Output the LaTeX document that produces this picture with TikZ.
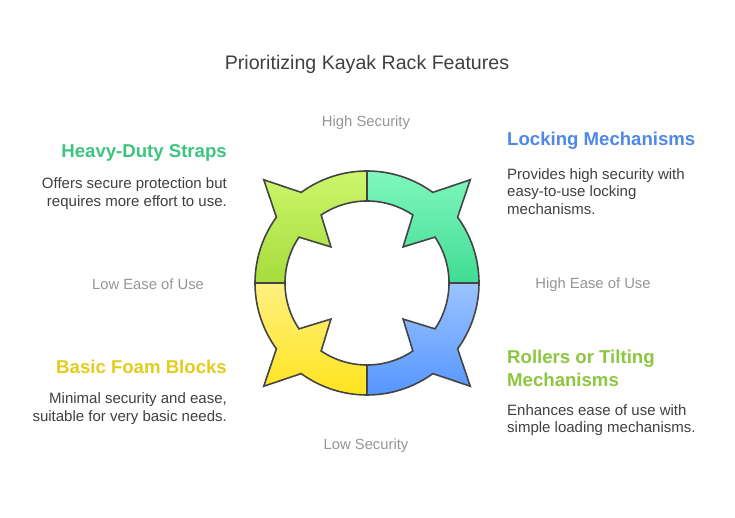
\documentclass[tikz,border=0pt]{standalone}
\usepackage{fontspec}
\setmainfont{Liberation Sans}
\begin{document}
\begin{tikzpicture}[x=1pt,y=1pt,
  ringseg/.style={draw=ringline, line width=1.6pt, line join=miter},
  heading/.style={font=\fontsize{18.6}{23}\selectfont\bfseries, inner sep=0pt},
  body/.style={font=\fontsize{15}{17.5}\selectfont, text=bodytext, inner sep=0pt},
  axislabel/.style={font=\fontsize{14.8}{17}\selectfont, text=axisgray, inner sep=0pt},
]
\definecolor{ringline}{HTML}{444444}
\definecolor{bodytext}{HTML}{404040}
\definecolor{axisgray}{HTML}{969696}
\definecolor{trtop}{HTML}{80F7BE}\definecolor{trbot}{HTML}{40DC94}
\definecolor{tltop}{HTML}{CCF66C}\definecolor{tlbot}{HTML}{A6DC3C}
\definecolor{bltop}{HTML}{FFF080}\definecolor{blbot}{HTML}{FFE41E}
\definecolor{brtop}{HTML}{9CC3FF}\definecolor{brbot}{HTML}{5596FF}
\definecolor{hgreen}{HTML}{3DC47E}
\definecolor{hblue}{HTML}{4F88E6}
\definecolor{hyellow}{HTML}{E3CC1E}
\definecolor{hlime}{HTML}{8DC73F}
\useasboundingbox (0,0) rectangle (735,518);
\fill[white] (0,0) rectangle (735,518);

\begin{scope}[shift={(367,235)}]
\foreach \b/\tc/\bc in {0/trtop/trbot, 90/tltop/tlbot, 180/bltop/blbot, 270/brtop/brbot}{
  \shade[ringseg, top color=\tc, bottom color=\bc]
    (\b:82) -- (\b:112)
    arc[start angle=\b, end angle=\b+36, radius=112]
    -- (\b+45:146) -- (\b+54:112)
    arc[start angle=\b+54, end angle=\b+90, radius=112]
    -- (\b+90:82)
    arc[start angle=\b+90, end angle=\b+56, radius=82]
    -- (\b+45:51) -- (\b+34:82)
    arc[start angle=\b+34, end angle=\b, radius=82]
    -- cycle;
}
\end{scope}

\node[font=\fontsize{19.6}{23}\selectfont, text=bodytext, inner sep=0pt] (title) at (367,454) {Prioritizing Kayak Rack Features};

\node[axislabel] (hs) at (366,395.5) {High Security};
\node[axislabel] (ls) at (366,72.5) {Low Security};
\node[axislabel] (le) at (148,233.5) {Low Ease of Use};
\node[axislabel] (he) at (593,233.5) {High Ease of Use};

\node[heading, text=hgreen, anchor=east] (h1) at (227,365.5) {Heavy-Duty Straps};
\node[body, anchor=east, align=right] (b1) at (227,324.5) {Offers secure protection but\\requires more effort to use.};

\node[heading, text=hblue, anchor=west] (h2) at (507,377.5) {Locking Mechanisms};
\node[body, anchor=west, align=left] (b2) at (507,326.5) {Provides high security with\\easy-to-use locking\\mechanisms.};

\node[heading, text=hyellow, anchor=east] (h3) at (227,151) {Basic Foam Blocks};
\node[body, anchor=east, align=right] (b3) at (227,109.5) {Minimal security and ease,\\suitable for very basic needs.};

\node[heading, text=hlime, anchor=west, align=left] (h4) at (507,150) {Rollers or Tilting\\Mechanisms};
\node[body, anchor=west, align=left] (b4) at (507,98) {Enhances ease of use with\\simple loading mechanisms.};
\end{tikzpicture}
\end{document}
